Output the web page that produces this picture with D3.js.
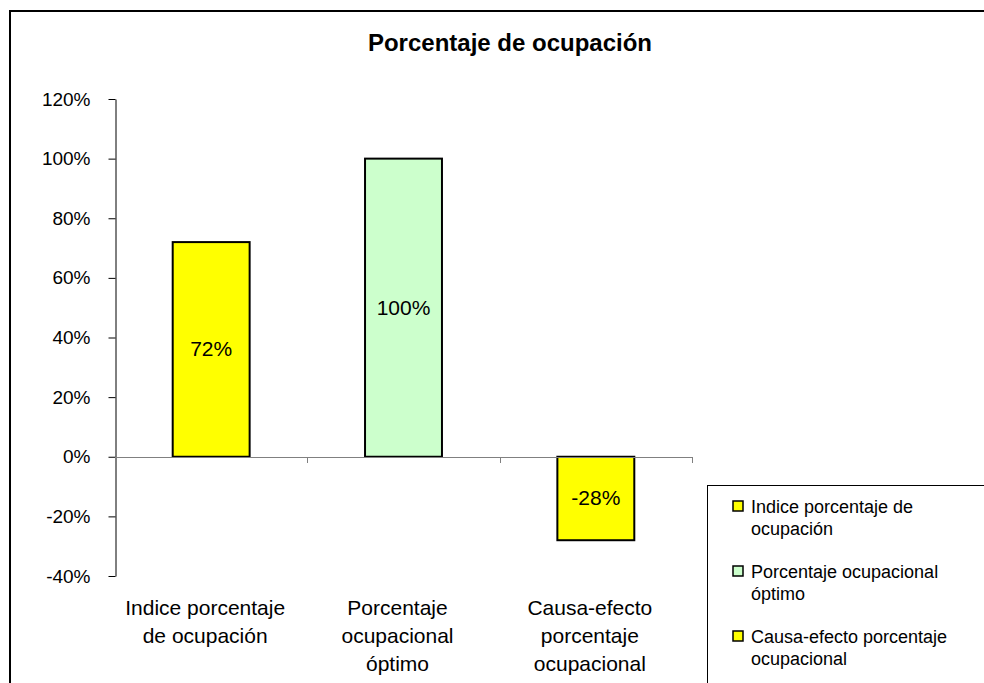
<!DOCTYPE html>
<html>
<head>
<meta charset="utf-8">
<script src="https://cdn.jsdelivr.net/npm/d3@7"></script>
<style>
  html, body { margin: 0; padding: 0; background: #fff; }
  svg { display: block; font-family: Arial, "Liberation Sans", sans-serif; }
</style>
</head>
<body>
<svg id="chart" width="984" height="683"></svg>
<script>
// Chart data
const categories = ["Indice porcentaje de ocupación", "Porcentaje ocupacional óptimo", "Causa-efecto porcentaje ocupacional"];
const categoryLines = [
  ["Indice porcentaje", "de ocupación"],
  ["Porcentaje", "ocupacional", "óptimo"],
  ["Causa-efecto", "porcentaje", "ocupacional"]
];
const values = [0.72, 1.00, -0.28];
const barColors = ["#FFFF00", "#CCFFCC", "#FFFF00"];
const legendLines = [
  ["Indice porcentaje de", "ocupación"],
  ["Porcentaje ocupacional", "óptimo"],
  ["Causa-efecto porcentaje", "ocupacional"]
];
const yTicks = [-0.4, -0.2, 0, 0.2, 0.4, 0.6, 0.8, 1.0, 1.2];
const title = "Porcentaje de ocupación";

const svg = d3.select("#chart");
// Percent format with a plain hyphen for negatives
const pct = v => d3.format(".0%")(v).replace("\u2212", "-");

// Outer chart frame (runs off the right and bottom edges)
svg.append("rect")
  .attr("x", 10).attr("y", 11)
  .attr("width", 1000).attr("height", 700)
  .attr("fill", "#fff").attr("stroke", "#000").attr("stroke-width", 2);

// Title
svg.append("text")
  .attr("x", 510).attr("y", 51)
  .attr("text-anchor", "middle")
  .attr("font-weight", "bold").attr("font-size", 24)
  .text(title);

// Scales
const x = d3.scaleBand().domain(categories).range([115, 692]).paddingInner(0.6).paddingOuter(0.3);
const y = d3.scaleLinear().domain([-0.4, 1.2]).range([576, 99]);

// Y axis
const yAxis = svg.append("g")
  .attr("transform", "translate(115.5,0)")
  .call(d3.axisLeft(y).tickValues(yTicks).tickFormat(pct).tickSize(7).tickPadding(18).tickSizeOuter(0));
yAxis.select(".domain").attr("stroke", "#000");
yAxis.selectAll(".tick line").attr("stroke", "#000");
yAxis.selectAll(".tick text").attr("font-size", 19).attr("fill", "#000").attr("font-family", "Arial, 'Liberation Sans', sans-serif");

// Bars
svg.append("g").selectAll("rect")
  .data(values)
  .join("rect")
  .attr("x", (d, i) => x(categories[i]))
  .attr("width", x.bandwidth())
  .attr("y", d => y(Math.max(0, d)))
  .attr("height", d => Math.abs(y(d) - y(0)))
  .attr("fill", (d, i) => barColors[i])
  .attr("stroke", "#000").attr("stroke-width", 2);

// X axis along zero line with downward ticks at category boundaries
const xAxisG = svg.append("g");
xAxisG.append("line")
  .attr("x1", 115).attr("x2", 692)
  .attr("y1", Math.round(y(0)) + 0.5).attr("y2", Math.round(y(0)) + 0.5)
  .attr("stroke", "#808080");
const bandStep = (x.range()[1] - x.range()[0]) / categories.length;
const boundaries = d3.range(1, categories.length + 1).map(i => x.range()[0] + i * bandStep);
xAxisG.selectAll("line.tick")
  .data(boundaries)
  .join("line")
  .attr("class", "tick")
  .attr("x1", d => Math.round(d) + 0.5).attr("x2", d => Math.round(d) + 0.5)
  .attr("y1", Math.round(y(0))).attr("y2", Math.round(y(0)) + 6)
  .attr("stroke", "#808080");

// Value labels centred in each bar
svg.append("g").selectAll("text")
  .data(values)
  .join("text")
  .attr("x", (d, i) => x(categories[i]) + x.bandwidth() / 2)
  .attr("y", d => (y(d) + y(0)) / 2 + 7)
  .attr("text-anchor", "middle")
  .attr("font-size", 21)
  .text(d => pct(d));

// Category labels under the plot
categoryLines.forEach((lines, i) => {
  const cx = x.range()[0] + bandStep * (i + 0.5) - 6;
  lines.forEach((t, j) => {
    svg.append("text")
      .attr("x", cx).attr("y", 615 + j * 28)
      .attr("text-anchor", "middle")
      .attr("font-size", 21)
      .text(t);
  });
});

// Legend
const legend = svg.append("g");
legend.append("rect")
  .attr("x", 707.5).attr("y", 485.5)
  .attr("width", 400).attr("height", 300)
  .attr("fill", "#fff").attr("stroke", "#000").attr("stroke-width", 1);
legendLines.forEach((lines, i) => {
  const top = 513 + i * 65;
  legend.append("rect")
    .attr("x", 733).attr("y", top - 12)
    .attr("width", 10).attr("height", 10)
    .attr("fill", barColors[i]).attr("stroke", "#000").attr("stroke-width", 1.5);
  lines.forEach((t, j) => {
    legend.append("text")
      .attr("x", 751).attr("y", top + j * 22)
      .attr("font-size", 18)
      .text(t);
  });
});
</script>
</body>
</html>
